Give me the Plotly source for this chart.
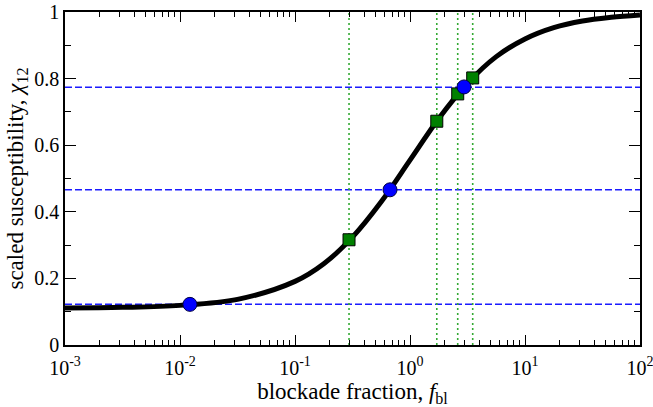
import plotly.graph_objects as go

# Curve samples
curve_f = [0.001, 0.00316, 0.01, 0.0316, 0.1, 0.178, 0.316, 0.562, 1.0, 1.778,
           3.162, 5.623, 10.0, 17.78, 31.62, 56.23, 100.0]
curve_chi = [0.111, 0.113, 0.119, 0.137, 0.191, 0.244, 0.324, 0.430, 0.555, 0.680,
             0.786, 0.866, 0.919, 0.953, 0.973, 0.984, 0.991]

# Blue circles
circle_f = [0.0122, 0.67, 2.95]
circle_chi = [0.122, 0.466, 0.775]

# Green squares
square_f = [0.295, 1.71, 2.60, 3.51]
square_chi = [0.316, 0.672, 0.754, 0.802]

# Reference lines
hline_chi = [0.122, 0.466, 0.774]
vline_f = [0.295, 1.71, 2.60, 3.51]

x_range = [0.001, 100.0]
x_tickvals = [0.001, 0.01, 0.1, 1, 10, 100]
x_ticktext = ["10<sup>-3</sup>", "10<sup>-2</sup>", "10<sup>-1</sup>",
              "10<sup>0</sup>", "10<sup>1</sup>", "10<sup>2</sup>"]

x_minor = [m * 10.0 ** e for e in range(-3, 2) for m in range(2, 10)]

fig = go.Figure()

for h in hline_chi:
    fig.add_trace(go.Scatter(x=x_range, y=[h, h], mode="lines",
                             line=dict(color="#1a1aff", width=1.5, dash="7px,3px"),
                             showlegend=False, hoverinfo="skip"))
for v in vline_f:
    fig.add_trace(go.Scatter(x=[v, v], y=[0, 1], mode="lines",
                             line=dict(color="#33aa33", width=1.6, dash="2px,3px"),
                             showlegend=False, hoverinfo="skip"))

fig.add_trace(go.Scatter(x=curve_f, y=curve_chi, mode="lines",
                         line=dict(color="black", width=5, shape="spline"),
                         showlegend=False))

fig.add_trace(go.Scatter(x=square_f, y=square_chi, mode="markers",
                         marker=dict(symbol="square", size=12, color="#008000",
                                     line=dict(color="black", width=1)),
                         showlegend=False))
fig.add_trace(go.Scatter(x=circle_f, y=circle_chi, mode="markers",
                         marker=dict(symbol="circle", size=14, color="#0000ff",
                                     line=dict(color="#000044", width=1)),
                         showlegend=False))

font_family = "Liberation Serif, Times New Roman, DejaVu Serif, serif"

fig.update_layout(
    width=653, height=407,
    margin=dict(l=65, r=13, t=12, b=62, autoexpand=False),
    paper_bgcolor="white", plot_bgcolor="white",
    font=dict(family=font_family, color="black", size=20),
)

fig.update_xaxes(
    type="log", range=[-3, 2], automargin=False,
    tickvals=x_tickvals, ticktext=x_ticktext,
    ticks="inside", ticklen=10, tickwidth=1.2, tickcolor="black",
    ticklabeloverflow="allow", ticklabelstandoff=4,
    minor=dict(ticks="inside", ticklen=5, tickwidth=1, tickcolor="black",
               tickmode="array", tickvals=x_minor, showgrid=False),
    showline=True, linecolor="black", linewidth=1.5, mirror="ticks",
    showgrid=False, zeroline=False,
    tickfont=dict(size=20, family=font_family),
    title=dict(text="blockade fraction, <i>f</i><sub>bl</sub>",
               font=dict(size=23, family=font_family), standoff=0),
)
fig.update_yaxes(
    range=[0, 1], dtick=0.2, automargin=False,
    ticks="inside", ticklen=11, tickwidth=1.2, tickcolor="black",
    ticklabeloverflow="allow",
    minor=dict(ticks="inside", ticklen=6, dtick=0.1, tickwidth=1,
               tickcolor="black", showgrid=False),
    showline=True, linecolor="black", linewidth=1.5, mirror="ticks",
    showgrid=False, zeroline=False,
    tickfont=dict(size=20, family=font_family),
    title=dict(text="scaled susceptibility, <i>χ</i><sub>12</sub>",
               font=dict(size=23, family=font_family), standoff=4),
)

# Remove the default page margin so the 653x407 figure fills the window exactly.
fig.write_html("out.html",
               config={"displayModeBar": False},
               post_script="document.body.style.margin='0';")
